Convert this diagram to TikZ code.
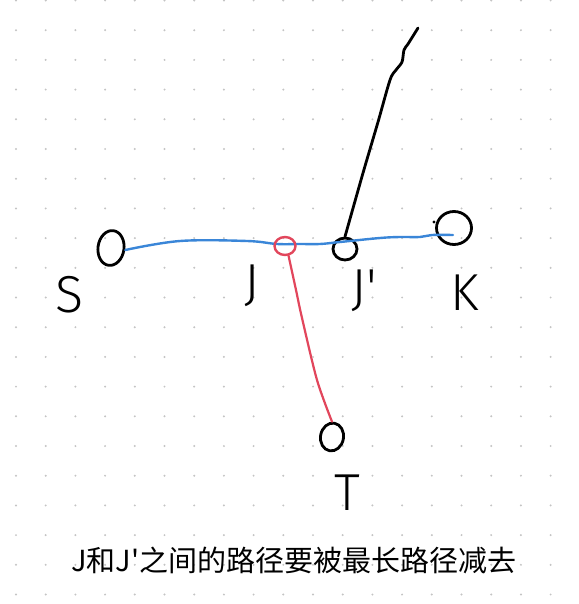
\documentclass[tikz,border=0pt]{standalone}
\usepackage{fontspec}
\newfontfamily\cjk{Noto Sans CJK SC}
\newfontfamily\hand{Fira Sans Light}
\usetikzlibrary{shapes.geometric}
\definecolor{pblue}{RGB}{58,134,216}
\definecolor{pred}{RGB}{226,70,92}
\definecolor{pdot}{RGB}{196,196,196}
\tikzset{
  ring/.style={ellipse, draw, line width=2.8pt, inner sep=0pt},
  ink/.style={line width=2.8pt, line cap=round, line join=round},
  lbl/.style={font=\hand\fontsize{52}{52}\selectfont, inner sep=0pt, anchor=base}
}
\begin{document}
\begin{tikzpicture}[x=1pt, y=-1pt]
\useasboundingbox (0,0) rectangle (578,604);
\fill[white] (0,0) rectangle (578,604);
% dotted grid
\foreach \i in {0,...,19} {
  \foreach \j in {0,...,20} {
    \fill[pdot] ({16+29.7*\i},{0.5+29.7*\j}) circle[radius=1.1pt];
  }
}
% nodes
\node[ring, minimum width=26pt, minimum height=35pt, rotate=-8] (S) at (111,248) {};
\node[ring, minimum width=35pt, minimum height=33pt] (K) at (454,228) {};
\node[ring, minimum width=24pt, minimum height=22pt] (Jp) at (345,249) {};
\node[ring, minimum width=23pt, minimum height=28pt, rotate=-10] (T) at (332,437) {};
\coordinate (kend) at (453,235);
\coordinate (top) at (418,28);
\fill (434,222) circle[radius=1.7pt];
% blue path S -> K
\draw[ink, pblue, line width=2.4pt] plot[smooth, tension=0.6] coordinates
  {(S.east) (180,241) (247,241) (277,244) (300,244) (320,244) (340,242) (380,238) (400,237) (420,237) (432,235) (kend)};
% red J
\node[ring, draw=pred, line width=2.4pt, minimum width=21pt, minimum height=18pt] (J) at (285,246) {};
\draw[ink, pred, line width=2.2pt] plot[smooth, tension=0.5] coordinates
  {(J.-70) (296,290) (302,318) (317,380) (T.100)};
% black line from J'
\draw[ink] plot[smooth, tension=0.5] coordinates
  {(Jp.north) (363,173) (378,122) (390,80) (396,70) (402,62) (404,50) (408,44) (top)};
% labels
\node[lbl] (lS) at (70,312) {S};
\node[lbl] (lJ) at (252,300) {J};
\node[lbl] (lJp) at (364,305) {J'};
\node[lbl] (lK) at (465,310) {K};
\node[lbl] (lT) at (347,510) {T};
% caption
\node[font=\cjk\fontsize{29}{29}\selectfont, inner sep=0pt] (cap) at (294,560) {J和J\textquotesingle 之间的路径要被最长路径减去};
\end{tikzpicture}
\end{document}
